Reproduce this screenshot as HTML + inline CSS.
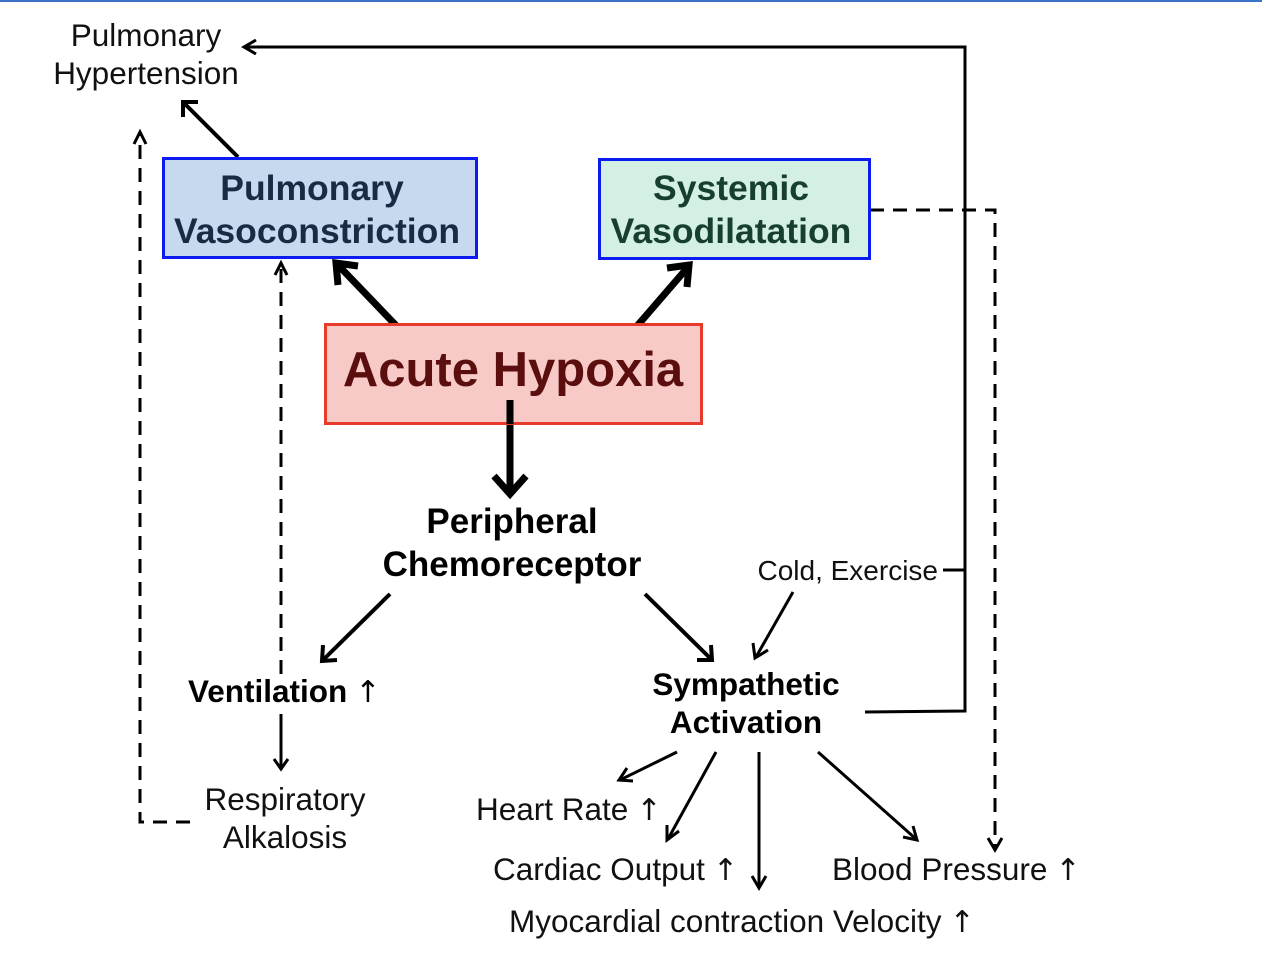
<!DOCTYPE html>
<html><head><style>
html,body{margin:0;padding:0;background:#fff;}
svg{display:block;}
text{font-family:"Liberation Sans",Arial,sans-serif;}
.ar{font-family:"DejaVu Sans",sans-serif;font-weight:normal;font-size:30px;}
</style></head><body>
<svg width="1262" height="962" viewBox="0 0 1262 962" xmlns="http://www.w3.org/2000/svg">
<rect x="0" y="0" width="1262" height="2" fill="#3b74c6"/>
<g fill="none" stroke="#000" stroke-linecap="butt">
<polyline points="865,712 965,711 965,47 244,47" stroke-width="3"/>
<polyline points="256,40 244,47 256,54" stroke-width="3"/>
<line x1="943" y1="570" x2="965" y2="570" stroke-width="3"/>
<line x1="238" y1="157" x2="185" y2="104" stroke-width="4"/>
<polyline points="183,117 183,102 198,102" stroke-width="4"/>
<line x1="410" y1="340" x2="338" y2="265" stroke-width="7"/>
<polyline points="338,285 336,263 358,266" stroke-width="7"/>
<line x1="625" y1="340" x2="688" y2="267" stroke-width="7"/>
<polyline points="667,268 689,265 687,287" stroke-width="7"/>
<line x1="510" y1="403" x2="510" y2="494" stroke-width="7"/>
<polyline points="494,476 510,494 526,476" stroke-width="7"/>
<line x1="390" y1="594" x2="323" y2="660" stroke-width="4"/>
<polyline points="323,645 322,661 337,660" stroke-width="4"/>
<line x1="645" y1="594" x2="711" y2="659" stroke-width="4"/>
<polyline points="697,660 712,660 711,645" stroke-width="4"/>
<line x1="793" y1="592" x2="756" y2="657" stroke-width="3"/>
<polyline points="753,643 755,658 768,650" stroke-width="3"/>
<line x1="281" y1="714" x2="281" y2="769" stroke-width="3"/>
<polyline points="274,759 281,769 288,759" stroke-width="3"/>
<line x1="281" y1="674" x2="281" y2="264" stroke-width="3" stroke-dasharray="14,9"/>
<polyline points="275,275 281,263 287,275" stroke-width="3"/>
<polyline points="190,822 140,822 140,132" stroke-width="3" stroke-dasharray="14,9"/>
<polyline points="134,144 140,132 146,144" stroke-width="3"/>
<polyline points="870,210 995,210 995,850" stroke-width="3" stroke-dasharray="14,9"/>
<polyline points="988,838 995,850 1002,838" stroke-width="3"/>
<line x1="677" y1="752" x2="620" y2="780" stroke-width="3"/>
<polyline points="627,768 619,780 633,781" stroke-width="3"/>
<line x1="716" y1="752" x2="668" y2="839" stroke-width="3"/>
<polyline points="667,825 667,840 679,831" stroke-width="3"/>
<line x1="759" y1="752" x2="759" y2="888" stroke-width="3"/>
<polyline points="752,876 759,888 766,876" stroke-width="3"/>
<line x1="818" y1="752" x2="916" y2="839" stroke-width="3"/>
<polyline points="903,837 917,840 913,826" stroke-width="3"/>
</g>
<rect x="163.5" y="158.5" width="313" height="99" fill="#c6d9ee" stroke="#0a1cf0" stroke-width="3"/>
<rect x="599.5" y="159.5" width="270" height="99" fill="#d4efe4" stroke="#0a1cf0" stroke-width="3"/>
<rect x="325.5" y="324.5" width="376" height="99" fill="#f8cac7" stroke="#e83a2a" stroke-width="3"/>
<line x1="510" y1="400" x2="510" y2="424" stroke="#000" stroke-width="7"/>
<g font-weight="bold" text-anchor="middle">
<text x="312" y="200" font-size="35.5" fill="#1a2a44">Pulmonary</text>
<text x="317" y="243" font-size="35.5" fill="#1a2a44">Vasoconstriction</text>
<text x="731" y="200" font-size="35.5" fill="#163f30">Systemic</text>
<text x="731" y="243" font-size="35.5" fill="#163f30">Vasodilatation</text>
<text x="513" y="386" font-size="49" fill="#5a0e0e">Acute Hypoxia</text>
<text x="512" y="533" font-size="35">Peripheral</text>
<text x="512" y="576" font-size="35">Chemoreceptor</text>
<text x="746" y="695" font-size="31.5">Sympathetic</text>
<text x="746" y="733" font-size="31.5">Activation</text>
</g>
<text x="188" y="702" font-size="31.5" font-weight="bold">Ventilation<tspan class="ar" dx="8">↑</tspan></text>
<g font-size="31.5" fill="#111">
<text x="146" y="46" text-anchor="middle">Pulmonary</text>
<text x="146" y="84" text-anchor="middle">Hypertension</text>
<text x="285" y="810" text-anchor="middle">Respiratory</text>
<text x="285" y="848" text-anchor="middle">Alkalosis</text>
<text x="476" y="820">Heart Rate<tspan class="ar" dx="8">↑</tspan></text>
<text x="493" y="880">Cardiac Output<tspan class="ar" dx="8">↑</tspan></text>
<text x="832" y="880">Blood Pressure<tspan class="ar" dx="8">↑</tspan></text>
<text x="509" y="932">Myocardial contraction Velocity<tspan class="ar" dx="8">↑</tspan></text>
<text x="938" y="580" font-size="28" text-anchor="end">Cold, Exercise</text>
</g>
</svg>
</body></html>
